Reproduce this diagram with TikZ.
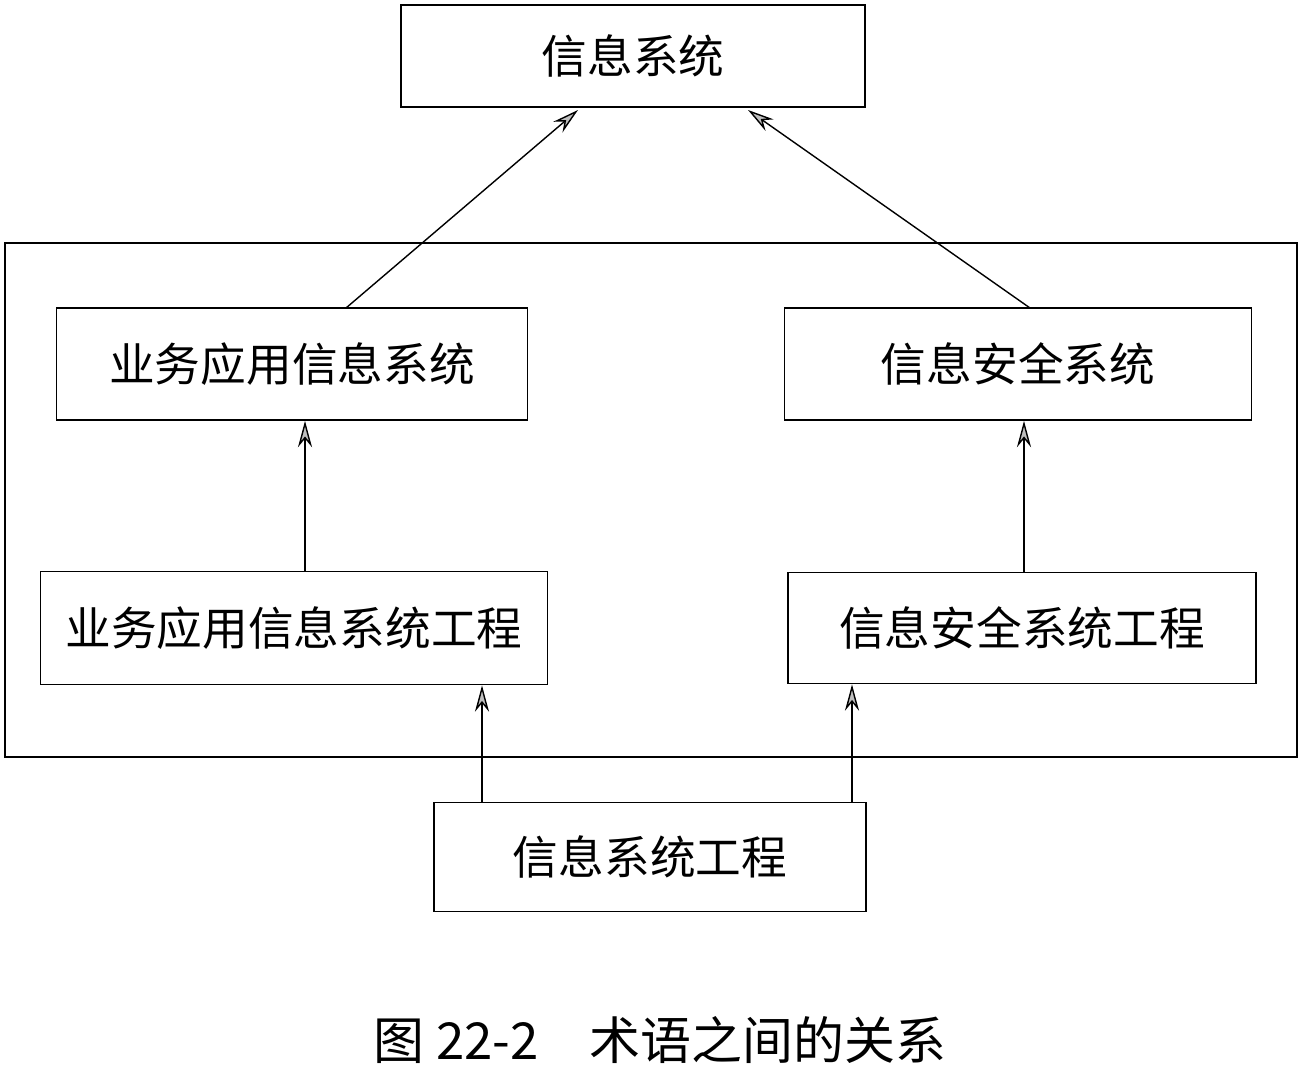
\documentclass[tikz,border=0pt]{standalone}
\usepackage{fontspec}
\newfontfamily\cjk{Noto Sans CJK SC}
\usetikzlibrary{arrows.meta}
\tikzset{
  box/.style={draw, line width=1pt, inner sep=0pt, font=\cjk\fontsize{26}{30}\selectfont},
  link/.style={line width=0.8pt, -{Stealth[open, length=15pt, width=8pt, fill=gray!50]}}
}
\begin{document}
\begin{tikzpicture}[x=0.02cm, y=-0.02cm]
\useasboundingbox (0,0) rectangle (1302,1071);

% boxes
\node[box, minimum width=464*0.02cm, minimum height=102*0.02cm] (infosys) at (633,56) {信息系统};
\draw[line width=1pt] (5,243) rectangle (1297,757);
\node[box, minimum width=471*0.02cm, minimum height=112*0.02cm] (bizsys) at (292,364) {业务应用信息系统};
\node[box, minimum width=467*0.02cm, minimum height=112*0.02cm] (secsys) at (1018,364) {信息安全系统};
\node[box, minimum width=507*0.02cm, minimum height=113*0.02cm] (bizeng) at (294,628) {业务应用信息系统工程};
\node[box, minimum width=468*0.02cm, minimum height=111*0.02cm] (seceng) at (1022,628) {信息安全系统工程};
\node[box, minimum width=432*0.02cm, minimum height=109*0.02cm] (infoeng) at (650,857) {信息系统工程};

% connectors
\coordinate (a1) at (346,308); \coordinate (a2) at (578,110);
\coordinate (b1) at (1030,308); \coordinate (b2) at (748,110);
\draw[link] (a1) -- (a2);
\draw[link] (b1) -- (b2);
\draw[link] (bizeng.north -| 305,0) -- (bizsys.south -| 305,0);
\draw[link] (seceng.north -| 1024,0) -- (secsys.south -| 1024,0);
\draw[link] (infoeng.north -| 482,0) -- (bizeng.south -| 482,0);
\draw[link] (infoeng.north -| 852,0) -- (seceng.south -| 852,0);

\node[font=\cjk\fontsize{29}{34}\selectfont] (caption) at (660,1040) {图 22-2\quad 术语之间的关系};
\end{tikzpicture}
\end{document}
